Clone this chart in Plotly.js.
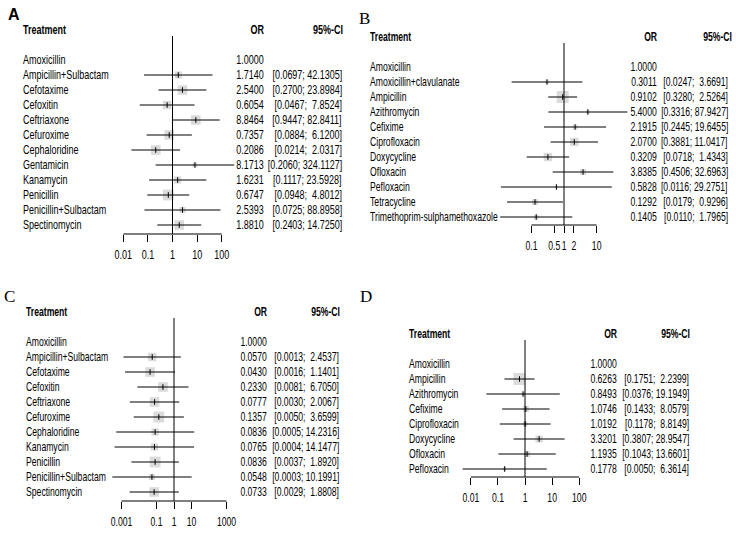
<!DOCTYPE html>
<html>
<head>
<meta charset="utf-8">
<script src="https://cdn.plot.ly/plotly-3.0.1.min.js"></script>
<style>html,body{margin:0;padding:0;background:#fff;}#chart{width:736px;height:534px;}</style>
</head>
<body>
<div id="chart"></div>
<script>
// ---------------- DATA ----------------
const treatmentsA = ["Amoxicillin","Ampicillin+Sulbactam","Cefotaxime","Cefoxitin","Ceftriaxone","Cefuroxime","Cephaloridine","Gentamicin","Kanamycin","Penicillin","Penicillin+Sulbactam","Spectinomycin"];
const orA    = [1.0000, 1.7140, 2.5400, 0.6054, 8.8464, 0.7357, 0.2086, 8.1713, 1.6231, 0.6747, 2.5393, 1.8810];
const lowerA = [null, 0.0697, 0.2700, 0.0467, 0.9447, 0.0884, 0.0214, 0.2060, 0.1117, 0.0948, 0.0725, 0.2403];
const upperA = [null, 42.1305, 23.8984, 7.8524, 82.8411, 6.1200, 2.0317, 324.1127, 23.5928, 4.8012, 88.8958, 14.7250];
const weightA = [null, 6, 8, 7, 8, 8, 8, 4, 6, 9, 5, 8];
const ticksA = [0.01, 0.1, 1, 10, 100];
const tickLabelsA = ["0.01", "0.1", "1", "10", "100"];

const treatmentsB = ["Amoxicillin","Amoxicillin+clavulanate","Ampicillin","Azithromycin","Cefixime","Ciprofloxacin","Doxycycline","Ofloxacin","Pefloxacin","Tetracycline","Trimethoprim-sulphamethoxazole"];
const orB    = [1.0000, 0.3011, 0.9102, 5.4000, 2.1915, 2.0700, 0.3209, 3.8385, 0.5828, 0.1292, 0.1405];
const lowerB = [null, 0.0247, 0.3280, 0.3316, 0.2445, 0.3881, 0.0718, 0.4506, 0.0116, 0.0179, 0.0110];
const upperB = [null, 3.6691, 2.5264, 87.9427, 19.6455, 11.0417, 1.4343, 32.6963, 29.2751, 0.9296, 1.7965];
const weightB = [null, 3, 10, 3, 4, 7, 7, 5, 2, 5, 4];
const ticksB = [0.1, 0.5, 1, 2, 10];
const tickLabelsB = ["0.1", "0.5", "1", "2", "10"];

const treatmentsC = ["Amoxicillin","Ampicillin+Sulbactam","Cefotaxime","Cefoxitin","Ceftriaxone","Cefuroxime","Cephaloridine","Kanamycin","Penicillin","Penicillin+Sulbactam","Spectinomycin"];
const orC    = [1.0000, 0.0570, 0.0430, 0.2330, 0.0777, 0.1357, 0.0836, 0.0765, 0.0836, 0.0548, 0.0733];
const lowerC = [null, 0.0013, 0.0016, 0.0081, 0.0030, 0.0050, 0.0005, 0.0004, 0.0037, 0.0003, 0.0029];
const upperC = [null, 2.4537, 1.1401, 6.7050, 2.0067, 3.6599, 14.2316, 14.1477, 1.8920, 10.1991, 1.8808];
const weightC = [null, 7, 8, 8, 8, 9, 6, 6, 9, 5, 8];
const ticksC = [0.001, 0.1, 1, 10, 1000];
const tickLabelsC = ["0.001", "0.1", "1", "10", "1000"];

const treatmentsD = ["Amoxicillin","Ampicillin","Azithromycin","Cefixime","Ciprofloxacin","Doxycycline","Ofloxacin","Pefloxacin"];
const orD    = [1.0000, 0.6263, 0.8493, 1.0746, 1.0192, 3.3201, 1.1935, 0.1778];
const lowerD = [null, 0.1751, 0.0376, 0.1433, 0.1178, 0.3807, 0.1043, 0.0050];
const upperD = [null, 2.2399, 19.1949, 8.0579, 8.8149, 28.9547, 13.6601, 6.3614];
const weightD = [null, 10, 3, 5, 4, 6, 5, 3];
const ticksD = [0.01, 0.1, 1, 10, 100];
const tickLabelsD = ["0.01", "0.1", "1", "10", "100"];

const panelLabels = ["A", "B", "C", "D"];
const headerTreatment = "Treatment";
const headerOR = "OR";
const headerCI = "95%-CI";

// ---------------- LAYOUT (pixel geometry) ----------------
const W = 736, H = 534;
const FONT = '"Liberation Sans", Arial, sans-serif';
const FS = 12;
const SQUARE = '#cccccc';
const SQUARE_SCALE = 1.2;

const panels = [
  {n:'', data:{t:treatmentsA,or:orA,lo:lowerA,hi:upperA,w:weightA,ticks:ticksA,tl:tickLabelsA}, narrow:0.75,
   label:{x:14,y:15,serif:false}, centerPx:172.5, decadePx:24.6, xDom:[0,368], top:0, axis:234, row0:60, step:15,
   nameX:23, orX:264, ciX:342, ciHX:343},
  {n:'2', data:{t:treatmentsB,or:orB,lo:lowerB,hi:upperB,w:weightB,ticks:ticksB,tl:tickLabelsB}, narrow:0.72,
   label:{x:364,y:19,serif:true}, centerPx:564, decadePx:32.6, xDom:[368,736], top:0, axis:225, row0:67, step:15,
   nameX:370, orX:657, ciX:728, ciHX:732},
  {n:'3', data:{t:treatmentsC,or:orC,lo:lowerC,hi:upperC,w:weightC,ticks:ticksC,tl:tickLabelsC}, narrow:0.72,
   label:{x:9,y:296,serif:true}, centerPx:174, decadePx:17.5, xDom:[0,368], top:270, axis:501, row0:342, step:15,
   nameX:26, orX:267, ciX:339, ciHX:340},
  {n:'4', data:{t:treatmentsD,or:orD,lo:lowerD,hi:upperD,w:weightD,ticks:ticksD,tl:tickLabelsD}, narrow:0.72,
   label:{x:366,y:296,serif:true}, centerPx:525, decadePx:27.1, xDom:[368,736], top:270, axis:477, row0:364, step:15,
   nameX:409, orX:617, ciX:689, ciHX:690}
];

function pad(s, n){ while (s.length < n) s = '\u00A0' + s; return s; }
function fmtCI(lo, hi){ return '[' + lo.toFixed(4) + ';\u00A0' + pad(hi.toFixed(4), 7) + ']'; }

const traces = [];
const annotations = [];
const annScale = [];
const shapes = [];
const layout = {
  width: W, height: H, autosize: false,
  margin: {l:0, r:0, t:0, b:0, pad:0},
  paper_bgcolor: '#ffffff', plot_bgcolor: 'rgba(0,0,0,0)',
  showlegend: false, hovermode: false,
  font: {family: FONT, size: FS, color: '#000'}
};

panels.forEach((p, k) => {
  const xa = 'x' + p.n, ya = 'y' + p.n;
  const xKey = 'xaxis' + p.n, yKey = 'yaxis' + p.n;
  const d = p.data;
  const yBottom = (p.axis - p.row0) / p.step;
  const yTop = (p.top - p.row0) / p.step;
  layout[xKey] = {
    type: 'log', domain: [p.xDom[0]/W, p.xDom[1]/W],
    range: [(p.xDom[0]-p.centerPx)/p.decadePx, (p.xDom[1]-p.centerPx)/p.decadePx],
    anchor: ya, showgrid: false, zeroline: false, showline: false,
    ticks: 'outside', ticklen: 7, tickwidth: 1, tickcolor: '#000', tickangle: 0,
    ticklabelstandoff: 3,
    tickmode: 'array', tickvals: d.ticks, ticktext: d.tl,
    tickfont: {family: FONT, size: FS, color: '#000'}, fixedrange: true
  };
  layout[yKey] = {
    domain: [1 - p.axis/H, 1 - p.top/H], range: [yBottom, yTop],
    anchor: xa, visible: false, showgrid: false, zeroline: false, fixedrange: true
  };
  const idx = d.t.map((_, i) => i).filter(i => d.lo[i] !== null);
  traces.push({type:'scatter', mode:'markers', xaxis:xa, yaxis:ya, cliponaxis:false,
    x: idx.map(i => d.or[i]), y: idx,
    marker: {symbol:'square', size: idx.map(i => d.w[i] * SQUARE_SCALE), color: SQUARE, line:{width:0}}});
  const lx = [], ly = [];
  idx.forEach(i => { lx.push(d.lo[i], d.hi[i], null); ly.push(i, i, null); });
  traces.push({type:'scatter', mode:'lines', xaxis:xa, yaxis:ya, cliponaxis:false,
    x: lx, y: ly, line: {color:'#000', width:1}});
  traces.push({type:'scatter', mode:'markers', xaxis:xa, yaxis:ya, cliponaxis:false,
    x: idx.map(i => d.or[i]), y: idx,
    marker: {symbol:'line-ns', size:4, color:'#000', line:{color:'#000', width:1}}});
  shapes.push({type:'line', xref:xa, yref:ya, x0:1, x1:1, y0:-1.6, y1:yBottom, line:{color:'#000', width:1}});
  shapes.push({type:'line', xref:xa, yref:ya + ' domain', x0:d.ticks[0], x1:d.ticks[d.ticks.length-1], y0:0, y1:0, line:{color:'#000', width:1}});

  const ann = (text, xpx, yv, anchor, bold) => {
    annotations.push({
      text: bold ? '<b>' + text + '</b>' : text, xref:'paper', yref:ya, x: xpx/W, y: yv,
      xanchor: anchor, yanchor:'middle', showarrow:false, borderpad:0, borderwidth:0,
      font:{family:FONT, size:FS, color:'#000'}
    });
    annScale.push(p.narrow);
  };
  ann(headerTreatment, p.nameX, -2, 'left', true);
  ann(headerOR, p.orX, -2, 'right', true);
  ann(headerCI, p.ciHX, -2, 'right', true);
  d.t.forEach((name, i) => {
    ann(name, p.nameX, i, 'left', false);
    ann(d.or[i].toFixed(4), p.orX, i, 'right', false);
    if (d.lo[i] !== null) ann(fmtCI(d.lo[i], d.hi[i]), p.ciX, i, 'right', false);
  });
  annotations.push({
    text: p.label.serif ? panelLabels[k] : '<b>' + panelLabels[k] + '</b>',
    xref:'paper', yref:'paper', x: p.label.x/W, y: 1 - p.label.y/H,
    xanchor:'center', yanchor:'middle', showarrow:false, borderpad:0,
    font: p.label.serif ? {family:'"Liberation Serif", "DejaVu Serif", serif', size:17, color:'#000'}
                        : {family:'"Liberation Sans", Arial, sans-serif', size:16, color:'#000'}
  });
  annScale.push(null);
});

layout.annotations = annotations;
layout.shapes = shapes;

function condense(el, mode, s){
  const bb = el.getBBox();
  let ax = bb.x + bb.width / 2;
  if (mode === 'left') ax = bb.x;
  else if (mode === 'right') ax = bb.x + bb.width;
  const prev = el.getAttribute('transform') || '';
  el.setAttribute('transform', (prev + ' translate(' + ax + ',0) scale(' + s + ',1) translate(' + (-ax) + ',0)').trim());
}

Plotly.newPlot('chart', traces, layout, {displayModeBar:false, staticPlot:true}).then(gd => {
  gd.querySelectorAll('g.annotation').forEach(g => {
    const i = +g.getAttribute('data-index');
    const a = layout.annotations[i];
    const s = annScale[i];
    if (!a || !s) return;
    const t = g.querySelector('text.annotation-text');
    if (t) condense(t, a.xanchor, s);
  });
  panels.forEach(p => {
    gd.querySelectorAll('g.x' + p.n + 'tick text').forEach(t => condense(t, 'center', p.narrow));
  });
});
</script>
</body>
</html>
